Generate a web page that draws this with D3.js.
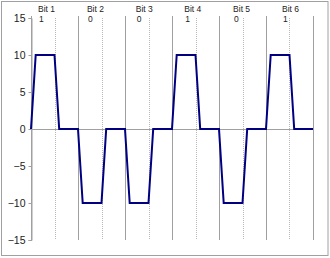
<!DOCTYPE html>
<html>
<head>
<meta charset="utf-8">
<script src="https://cdn.jsdelivr.net/npm/d3@7"></script>
<style>
  body { margin: 0; background: #fff; }
  svg { display: block; font-family: "Liberation Sans", Arial, sans-serif; }
</style>
</head>
<body>
<svg id="chart" width="330" height="258"></svg>
<script>
// bit sequence and the signal (time in bit periods, amplitude)
const bitNames = ['Bit 1', 'Bit 2', 'Bit 3', 'Bit 4', 'Bit 5', 'Bit 6'];
const bitValues = ['1', '0', '0', '1', '0', '1'];
const labelPos = [0.15, 1.19, 2.23, 3.26, 4.30, 5.34];
const signalT = [0, 0.1, 0.5, 0.6, 1, 1.1, 1.5, 1.6, 2, 2.1, 2.5, 2.6,
  3, 3.1, 3.5, 3.6, 4, 4.1, 4.5, 4.6, 5, 5.1, 5.5, 5.6, 6];
const signalV = [0, 10, 10, 0, 0, -10, -10, 0, 0, -10, -10, 0,
  0, 10, 10, 0, 0, -10, -10, 0, 0, 10, 10, 0, 0];
const yTicks = [-15, -10, -5, 0, 5, 10, 15];
const boundaries = [0, 1, 2, 3, 4, 5, 6];
const midpoints = [0.5, 1.5, 2.5, 3.5, 4.5, 5.5];

const W = 330, H = 258;
const svg = d3.select('#chart');

// outer frame
svg.append('rect')
  .attr('x', 1.5).attr('y', 1.5)
  .attr('width', W - 3.5).attr('height', H - 4)
  .attr('fill', 'none').attr('stroke', '#a0a0a0');

const x = d3.scaleLinear().domain([0, 6]).range([31, 313]);
const y = d3.scaleLinear().domain([-15, 15]).range([240, 18]);

// dotted mid-bit lines
svg.selectAll('.mid')
  .data(midpoints)
  .join('line')
  .attr('x1', d => Math.round(x(d)) + 0.5).attr('x2', d => Math.round(x(d)) + 0.5)
  .attr('y1', y(15)).attr('y2', y(-15))
  .attr('stroke', '#b8b8b8')
  .attr('stroke-dasharray', '1,1');

// solid bit boundaries
svg.selectAll('.bound')
  .data(boundaries)
  .join('line')
  .attr('x1', d => Math.round(x(d)) + 0.5).attr('x2', d => Math.round(x(d)) + 0.5)
  .attr('y1', y(15) - 2).attr('y2', y(-15))
  .attr('stroke', '#a0a0a0');

// zero line
svg.append('line')
  .attr('x1', x(0)).attr('x2', x(6))
  .attr('y1', Math.round(y(0)) + 0.5).attr('y2', Math.round(y(0)) + 0.5)
  .attr('stroke', '#a0a0a0');

// y axis
const yAxis = svg.append('g')
  .attr('transform', `translate(${Math.round(x(0)) + 0.5},0)`)
  .call(d3.axisLeft(y).tickValues(yTicks).tickSize(3).tickPadding(3));
yAxis.select('.domain').attr('stroke', '#a0a0a0');
yAxis.selectAll('.tick line').attr('stroke', '#a0a0a0');
yAxis.selectAll('.tick text')
  .attr('font-size', 10.5)
  .attr('fill', '#222')
  .attr('font-family', '"Liberation Sans", Arial, sans-serif');

// signal
const line = d3.line()
  .x((d, i) => x(signalT[i]))
  .y(d => y(d));
svg.append('path')
  .datum(signalV)
  .attr('d', line)
  .attr('fill', 'none')
  .attr('stroke', '#000080')
  .attr('stroke-width', 2)
  .attr('stroke-linejoin', 'miter');

// bit labels
svg.selectAll('.bitname')
  .data(bitNames)
  .join('text')
  .attr('x', (d, i) => x(labelPos[i]))
  .attr('y', 12)
  .attr('font-size', 8.5)
  .attr('fill', '#222')
  .text(d => d);

svg.selectAll('.bitval')
  .data(bitValues)
  .join('text')
  .attr('x', (d, i) => x(labelPos[i]) + 1)
  .attr('y', 22)
  .attr('font-size', 8.5)
  .attr('fill', '#222')
  .text(d => d);
</script>
</body>
</html>
